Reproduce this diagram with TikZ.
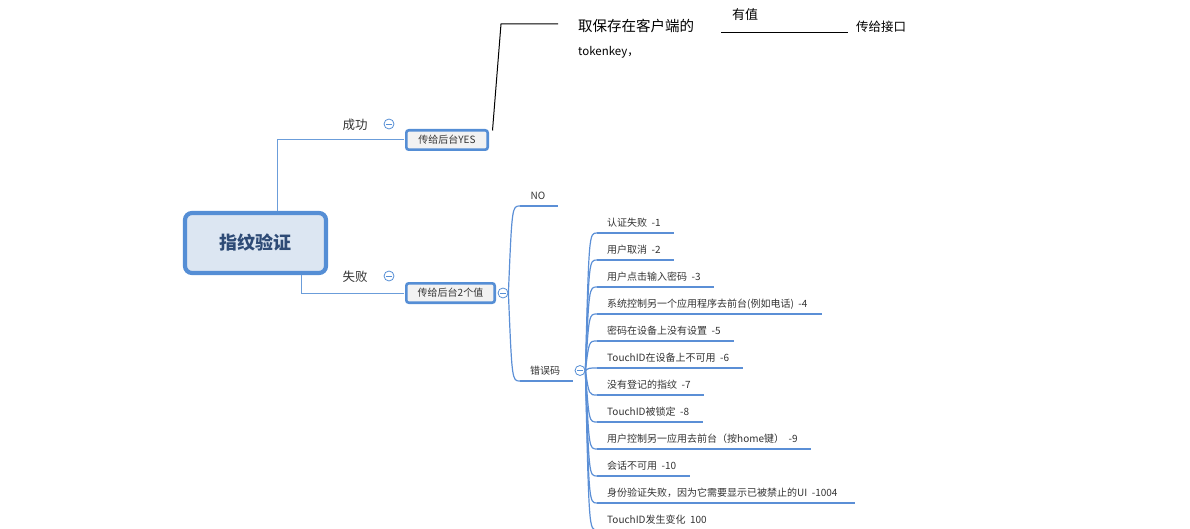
\documentclass[tikz,border=0pt]{standalone}
\usepackage{fontspec}
\setmainfont{Noto Sans CJK SC}
\definecolor{mainblue}{HTML}{558ED5}
\definecolor{linkblue}{HTML}{5B8FD6}
\definecolor{thinblue}{HTML}{6B9DDA}
\definecolor{mainfill}{HTML}{DCE6F2}
\definecolor{boxfill}{HTML}{F2F2F2}
\definecolor{titletext}{HTML}{2E4B76}
\definecolor{txt}{HTML}{333333}
\begin{document}
\begin{tikzpicture}[x=1pt,y=-1pt,
  mainbox/.style={draw=mainblue, fill=mainfill, line width=4.2pt, rounded corners=7pt,
    text=titletext, font=\fontsize{18}{21}\selectfont\bfseries, inner sep=0pt},
  subbox/.style={draw=mainblue, fill=boxfill, line width=2.6pt, rounded corners=2.5pt,
    text=txt, font=\fontsize{10}{12}\selectfont, inner sep=0pt},
  lbl/.style={text=txt, font=\fontsize{12.5}{14}\selectfont, inner sep=0pt},
  itemtext/.style={text=txt, font={\fontsize{10}{12}\selectfont\spaceskip=4.5pt plus 1pt}, inner sep=0pt, anchor=west},
  blacktext/.style={text=black, inner sep=0pt, anchor=west},
  link/.style={draw=thinblue, line width=1pt},
  branch/.style={draw=linkblue, line width=1.2pt},
  uline/.style={draw=linkblue, line width=2.5pt},
  minusicon/.style={circle, draw=mainblue, line width=0.8pt, minimum size=10pt, inner sep=0pt, fill=white,
    path picture={\draw[mainblue, line width=0.8pt] ([xshift=-2.6pt]path picture bounding box.center) -- ([xshift=2.6pt]path picture bounding box.center);}}
]
\useasboundingbox (0,0) rectangle (1190,529);
\clip (0,0) rectangle (1190,529);

% nodes
\node[mainbox, minimum width=141pt, minimum height=60pt] (main) at (255.5,243) {指纹验证};
\node[subbox, minimum width=81.4pt, minimum height=19.4pt] (yes) at (447,140) {传给后台YES};
\node[subbox, minimum width=88.4pt, minimum height=19.4pt] (fail) at (450.5,293) {传给后台2个值};

% links from main
\draw[link] ([xshift=21.5pt]main.north) |- ([xshift=-1.3pt]yes.west);
\draw[link] ([xshift=45.5pt]main.south) |- ([xshift=-1.3pt]fail.west);

\node[lbl] (succ) at (355,125) {成功};
\node[minusicon] (c1) at (389,124) {};
\node[lbl] (lose) at (355,277) {失败};
\node[minusicon] (c2) at (389,276) {};
\node[minusicon] (c3) at (503,293) {};

% top black annotations
\coordinate (k1) at (501,24);
\coordinate (k2) at (558,24);
\draw[black, line width=1pt] ([xshift=3.5pt,yshift=-1.5pt]yes.north east) -- (k1) -- (k2);
\node[blacktext, font=\fontsize{14.5}{16}\selectfont] (t1) at (578,26) {取保存在客户端的};
\node[blacktext, font=\fontsize{11.5}{13}\selectfont] (t2) at (578,52) {tokenkey，};
\node[blacktext, font=\fontsize{13}{15}\selectfont] (t3) at (732,15) {有值};
\coordinate (v1) at (721,32);
\coordinate (v2) at (848,32);
\draw[black, line width=0.9pt] (v1) -- (v2);
\node[blacktext, font=\fontsize{12.5}{14}\selectfont] (t4) at (856,27) {传给接口};

% NO branch
\coordinate (nos) at (520,206);
\coordinate (noe) at (558,206);
\draw[branch] (c3.east) .. controls (512,206) .. (nos);
\draw[uline] (nos) -- (noe);
\node[itemtext, anchor=center] (no) at (538,196) {NO};

% error code branch
\coordinate (ers) at (520,381);
\coordinate (ere) at (573,381);
\draw[branch] (c3.east) .. controls (512,381) .. (ers);
\draw[uline] (ers) -- (ere);
\node[itemtext, anchor=center] (err) at (545,371) {错误码};
\node[minusicon] (c4) at (580,370.5) {};

% error items
\foreach \i/\y/\e/\t in {
  1/233/674/认证失败 -1,
  2/260/674/用户取消 -2,
  3/287/714/用户点击输入密码 -3,
  4/314/822/系统控制另一个应用程序去前台(例如电话) -4,
  5/341/734/密码在设备上没有设置 -5,
  6/368/743/TouchID在设备上不可用 -6,
  7/395/704/没有登记的指纹 -7,
  8/422/703/TouchID被锁定 -8,
  9/449/811/用户控制另一应用去前台（按home键） -9,
  10/476/690/会话不可用 -10,
  11/503/855/身份验证失败，因为它需要显示已被禁止的UI -1004,
  12/530/720/TouchID发生变化 100}{
  \coordinate (us\i) at (597,\y);
  \coordinate (ue\i) at (\e,\y);
  \draw[branch] (c4.east) .. controls (589,\y) .. (us\i);
  \draw[uline] (us\i) -- (ue\i);
  \node[itemtext] (item\i) at (607,\y-10) {\t};
}
\end{tikzpicture}
\end{document}
